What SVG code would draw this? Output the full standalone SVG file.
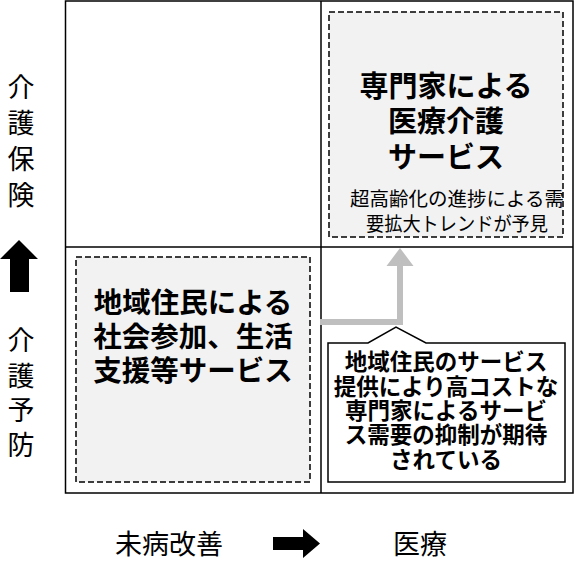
<svg xmlns="http://www.w3.org/2000/svg" width="575" height="569" viewBox="0 0 575 569">
<style>
.t{font-family:"Liberation Sans","Noto Sans CJK JP",sans-serif;fill:#000;}
.b{font-weight:bold;}
.dash{fill:#f2f2f2;stroke:#000;stroke-width:1.5;stroke-dasharray:6,3;}
.frame{fill:none;stroke:#000;stroke-width:1.5;}
</style>
<rect width="575" height="569" fill="#fff"/>
<g id="grid">
<rect class="frame" x="65.5" y="1" width="507.5" height="492"/>
<line class="frame" x1="321" y1="1" x2="321" y2="493"/>
<line class="frame" x1="65.5" y1="247" x2="573" y2="247"/>
</g>
<g id="node-specialist">
<rect class="dash" x="329" y="12" width="234" height="225"/>
<text class="t b" font-size="29" text-anchor="middle" x="446" y="97">専門家による</text>
<text class="t b" font-size="29" text-anchor="middle" x="446" y="132">医療介護</text>
<text class="t b" font-size="29" text-anchor="middle" x="446" y="168">サービス</text>
<text class="t" font-size="19.5" text-anchor="middle" x="457" y="206">超高齢化の進捗による需</text>
<text class="t" font-size="19.5" text-anchor="middle" x="457" y="231" textLength="182" lengthAdjust="spacingAndGlyphs">要拡大トレンドが予見</text>
</g>
<g id="node-community">
<rect class="dash" x="76" y="257" width="234" height="225"/>
<text class="t b" font-size="28.5" text-anchor="middle" x="193" y="313">地域住民による</text>
<text class="t b" font-size="28.5" text-anchor="middle" x="193" y="347">社会参加、生活</text>
<text class="t b" font-size="28.5" text-anchor="middle" x="193" y="381">支援等サービス</text>
</g>
<g id="connectors">
<polyline points="320,322 400,322 400,264" fill="none" stroke="#bfbfbf" stroke-width="6"/>
<polygon points="386.5,266 400,248 413.5,266" fill="#bfbfbf"/>
</g>
<g id="node-callout">
<path d="M328,343 L368,343 L396,327 L426,343 L565,343 L565,482 L328,482 Z" fill="#fff" stroke="#000" stroke-width="1.5"/>
<text class="t b" font-size="22.5" text-anchor="middle" x="446" y="370">地域住民のサービス</text>
<text class="t b" font-size="22.5" text-anchor="middle" x="446" y="395">提供により高コストな</text>
<text class="t b" font-size="22.5" text-anchor="middle" x="446" y="419">専門家によるサービ</text>
<text class="t b" font-size="22.5" text-anchor="middle" x="446" y="443">ス需要の抑制が期待</text>
<text class="t b" font-size="22.5" text-anchor="middle" x="446" y="468">されている</text>
</g>
<g id="axis-y">
<text class="t" font-size="27" text-anchor="middle" x="21" y="97">介</text>
<text class="t" font-size="27" text-anchor="middle" x="21" y="133">護</text>
<text class="t" font-size="27" text-anchor="middle" x="21" y="169">保</text>
<text class="t" font-size="27" text-anchor="middle" x="21" y="205">険</text>
<polygon points="19,240 38,259 29,259 29,292 10,292 10,259 0,259" fill="#000"/>
<text class="t" font-size="27" text-anchor="middle" x="21" y="350">介</text>
<text class="t" font-size="27" text-anchor="middle" x="21" y="386">護</text>
<text class="t" font-size="27" text-anchor="middle" x="21" y="420">予</text>
<text class="t" font-size="27" text-anchor="middle" x="21" y="455">防</text>
</g>
<g id="axis-x">
<text class="t" font-size="27" text-anchor="middle" x="169" y="554">未病改善</text>
<polygon points="273,537 303,537 303,529 320,543.5 303,558 303,550 273,550" fill="#000"/>
<text class="t" font-size="27" text-anchor="middle" x="420" y="554">医療</text>
</g>
</svg>
